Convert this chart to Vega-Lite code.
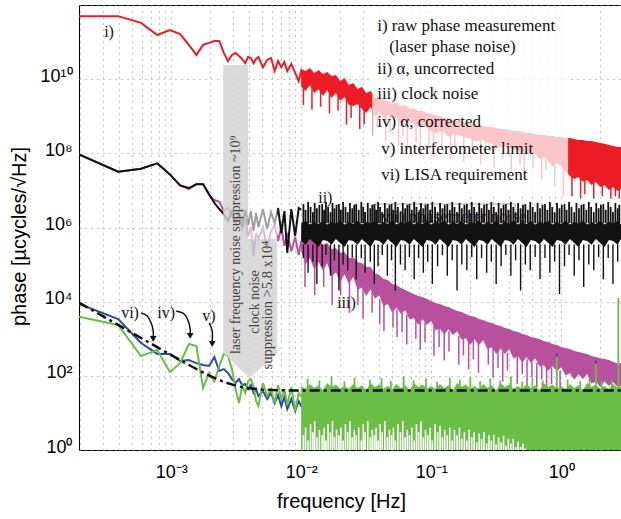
{
"$schema":"https://vega.github.io/schema/vega-lite/v6.json",
"autosize":{"type":"none"},
"padding":{"left":79,"top":5,"right":0,"bottom":70},
"width":542,"height":445,
"background":"white",
"resolve":{"axis":{"y":"independent"}},
"config":{"view":{"stroke":"#000","strokeWidth":1},"axis":{"domain":false,"ticks":false}},
"datasets":{
"main":[
{"f":1.953e-4,"r":5e11,"k":9.4e7,"m":9.4e7,"b":8700,"g":3900},
{"f":3.906e-4,"r":5e11,"k":3.2e7,"m":3.2e7,"b":3400,"g":2350},
{"f":5.859e-4,"r":3.3e11,"k":3.85e7,"m":3.85e7,"b":770,"g":340},
{"f":7.813e-4,"r":1.55e11,"k":5.4e7,"m":5.4e7,"b":390,"g":495},
{"f":9.766e-4,"r":2.1e11,"k":2.7e7,"m":2.7e7,"b":390,"g":127},
{"f":1.172e-3,"r":1.65e11,"k":1.37e7,"m":1.37e7,"b":250,"g":220},
{"f":1.367e-3,"r":8.4e10,"k":1.16e7,"m":1.09e7,"b":267,"g":720},
{"f":1.563e-3,"r":4.5e10,"k":1.46e7,"m":1.48e7,"b":220,"g":635},
{"f":1.758e-3,"r":8.4e10,"k":1.46e7,"m":1.48e7,"b":195,"g":47},
{"f":1.953e-3,"r":9.5e10,"k":8e6,"m":7.5e6,"b":184,"g":119},
{"f":2.148e-3,"r":1.07e11,"k":4.6e6,"m":5.5e6,"b":320,"g":72},
{"f":2.344e-3,"r":1.07e11,"k":3.15e6,"m":4.9e6,"b":135,"g":184},
{"f":2.539e-3,"r":5.1e10,"k":2.3e6,"m":2.78e6,"b":152,"g":390},
{"f":2.734e-3,"r":3.1e10,"k":1.5e6,"m":3.35e6,"b":119,"g":340},
{"f":2.93e-3,"r":4.5e10,"k":2.78e6,"m":2.04e6,"b":82,"g":152},
{"f":3.125e-3,"r":5.1e10,"k":1.32e6,"m":1.32e6,"b":64,"g":44},
{"f":3.32e-3,"r":4.2e10,"k":2.46e6,"m":2.3e6,"b":82,"g":18.5},
{"f":3.516e-3,"r":3.5e10,"k":1.03e6,"m":9.1e5,"b":56,"g":53},
{"f":3.711e-3,"r":2.7e10,"k":2.96e6,"m":1.7e6,"b":60,"g":34.5},
{"f":3.906e-3,"r":3.95e10,"k":1.17e6,"m":5.9e5,"b":44,"g":72},
{"f":4.102e-3,"r":3.7e10,"k":2.78e6,"m":1.03e6,"b":56,"g":82},
{"f":4.297e-3,"r":2.7e10,"k":8.1e5,"m":1.7e5,"b":34.5,"g":53},
{"f":4.492e-3,"r":3.5e10,"k":2.46e6,"m":7.1e5,"b":44,"g":20.9},
{"f":4.688e-3,"r":3.95e10,"k":1.03e6,"m":4.9e5,"b":28.5,"g":15.3},
{"f":5.078e-3,"r":2.1e10,"k":3.15e6,"m":1.03e6,"b":39,"g":64},
{"f":5.469e-3,"r":3.3e10,"k":9.1e5,"m":2.6e5,"b":23.7,"g":28.5},
{"f":5.859e-3,"r":3.7e10,"k":2.6e6,"m":8.1e5,"b":34.5,"g":44},
{"f":6.25e-3,"r":1.66e10,"k":1.32e6,"m":1.17e6,"b":18.5,"g":18.5},
{"f":6.641e-3,"r":3.1e10,"k":3.35e6,"m":4.3e5,"b":30,"g":56},
{"f":7.031e-3,"r":2.1e10,"k":7.1e5,"m":1.03e6,"b":15.3,"g":23.7},
{"f":7.422e-3,"r":2.9e10,"k":2.78e6,"m":3.2e5,"b":27,"g":44},
{"f":7.813e-3,"r":1.66e10,"k":2.05e5,"m":7.1e5,"b":12.7,"g":16.3},
{"f":8.398e-3,"r":2.57e10,"k":3.15e6,"m":2.3e5,"b":23.7,"g":50},
{"f":8.984e-3,"r":1.47e10,"k":5.9e5,"m":5.55e5,"b":11.3,"g":11.3},
{"f":9.57e-3,"r":8.9e9,"k":3.35e6,"m":1.8e5,"b":20.9,"g":34.5},
{"f":0.01,"r":1.66e10,"rh":1.88e10,"rl":6.2e9,"k":3e6,"kh":1.3e6,"kl":4.3e5,"m":4.3e5,"mh":8.1e5,"ml":2.3e5,"b":15.3,"g":28,"gh":53,"gl":0.69},
{"f":0.0108,"r":6.6e9,"rh":1.66e10,"rl":4.8e9,"kh":1.5e6,"kl":3.4e5,"mh":5.55e5,"ml":1.0e5,"gh":44,"gl":0.69},
{"f":0.01166,"r":1.47e10,"rh":2e10,"rl":7e9,"kh":1.2e6,"kl":4.9e5,"mh":6.7e5,"ml":1.5e5,"gh":60,"gl":0.69},
{"f":0.01259,"rh":1.47e10,"rl":4.25e9,"kh":1.4e6,"kl":3.8e5,"mh":4.3e5,"ml":7.2e4,"gh":47,"gl":0.69},
{"f":0.01359,"rh":1.77e10,"rl":5.45e9,"kh":1.25e6,"kl":3.0e5,"mh":4.9e5,"ml":1.2e5,"gh":56,"gl":0.69},
{"f":0.01468,"rh":1.38e10,"rl":3.5e9,"kh":1.5e6,"kl":4.6e5,"mh":3.4e5,"ml":6.8e4,"b":11.3,"gh":41,"gl":0.69},
{"f":0.01585,"rh":1.56e10,"rl":5.1e9,"kh":1.2e6,"kl":4.3e5,"mh":3.8e5,"ml":1.1e5,"gh":64,"gl":0.69},
{"f":0.01711,"rh":1.22e10,"rl":3.1e9,"kh":1.4e6,"kl":3.4e5,"mh":2.6e5,"ml":4.7e4,"gh":50,"gl":0.69},
{"f":0.01848,"rh":1.3e10,"rl":4.25e9,"kh":1.3e6,"kl":4.9e5,"mh":2.8e5,"ml":6.2e4,"gh":58,"gl":0.69},
{"f":0.01995,"rh":8.9e9,"rl":2.6e9,"kh":1.5e6,"kl":3.8e5,"mh":2.05e5,"ml":3.4e4,"gh":45,"gl":0.69},
{"f":0.02154,"rh":1.08e10,"rl":3.3e9,"kh":1.2e6,"kl":3.0e5,"mh":2.2e5,"ml":5.5e4,"b":20.9,"gh":53,"gl":0.69},
{"f":0.02326,"rh":7e9,"rl":2e9,"kh":1.4e6,"kl":4.6e5,"mh":1.5e5,"ml":3.0e4,"gh":44,"gl":0.69},
{"f":0.02512,"rh":7.9e9,"rl":1.9e9,"kh":1.25e6,"kl":4.3e5,"mh":1.6e5,"ml":4.6e4,"gh":60,"gl":0.69},
{"f":0.02712,"rh":5.45e9,"rl":2.15e9,"kh":1.5e6,"kl":3.4e5,"mh":1.17e5,"ml":2.1e4,"gh":47,"gl":0.69},
{"f":0.02929,"rh":6.2e9,"rl":1.57e9,"kh":1.2e6,"kl":4.9e5,"mh":1.1e5,"ml":2.4e4,"gh":56,"gl":0.69},
{"f":0.03162,"rh":4.25e9,"rl":1.23e9,"kh":1.4e6,"kl":3.8e5,"mh":8.6e4,"ml":1.4e4,"gh":41,"gl":0.69},
{"f":0.03415,"rh":4.8e9,"rl":1.78e9,"kh":1.3e6,"kl":3.0e5,"mh":8.6e4,"ml":2.15e4,"gh":64,"gl":0.69},
{"f":0.03687,"rh":3.3e9,"rl":1.02e9,"kh":1.5e6,"kl":4.6e5,"mh":5.9e4,"ml":1.2e4,"gh":50,"gl":0.69},
{"f":0.03981,"rh":3.1e9,"rl":1.3e9,"kh":1.2e6,"kl":4.3e5,"mh":5.25e4,"ml":1.5e4,"gh":58,"gl":0.69},
{"f":0.04299,"rh":2.75e9,"rl":8.5e8,"kh":1.4e6,"kl":3.4e5,"mh":4.1e4,"ml":7.5e3,"gh":45,"gl":0.69},
{"f":0.04642,"rh":2.6e9,"rl":1.08e9,"kh":1.25e6,"kl":4.9e5,"mh":3.85e4,"ml":8.6e3,"b":15.3,"gh":53,"gl":0.69},
{"f":0.05012,"rh":2.15e9,"rl":9.6e8,"kh":1.5e6,"kl":3.8e5,"mh":3e4,"ml":5e3,"gh":44,"gl":0.69},
{"f":0.05412,"rh":2.28e9,"rl":9e8,"kh":1.2e6,"kl":3.0e5,"mh":2.8e4,"ml":7e3,"gh":60,"gl":0.69},
{"f":0.05843,"rh":1.9e9,"rl":6.6e8,"kh":1.4e6,"kl":4.6e5,"mh":2.35e4,"ml":4.7e3,"gh":47,"gl":0.69},
{"f":0.0631,"rh":2e9,"rl":7.5e8,"kh":1.3e6,"kl":4.3e5,"mh":2.07e4,"ml":5.9e3,"gh":56,"gl":0.69},
{"f":0.06813,"rh":1.57e9,"rl":7e8,"kh":1.5e6,"kl":3.4e5,"mh":1.83e4,"ml":3.3e3,"gh":41,"gl":0.69},
{"f":0.07356,"rh":1.67e9,"rl":6.2e8,"kh":1.2e6,"kl":4.9e5,"mh":1.6e4,"ml":3.6e3,"gh":64,"gl":0.69},
{"f":0.07943,"rh":1.39e9,"rl":5.15e8,"kh":1.4e6,"kl":3.8e5,"mh":1.42e4,"ml":2.4e3,"gh":50,"gl":0.69},
{"f":0.08577,"rh":1.39e9,"rl":5.8e8,"kh":1.25e6,"kl":3.0e5,"mh":1.34e4,"ml":3.35e3,"gh":58,"gl":0.69},
{"f":0.09261,"rh":1.23e9,"rl":4.85e8,"kh":1.5e6,"kl":4.6e5,"mh":1.18e4,"ml":2.4e3,"gh":45,"gl":0.69},
{"f":0.1,"rh":1.15e9,"rl":4e8,"kh":1.2e6,"kl":4.3e5,"mh":1.04e4,"ml":3e3,"b":20.9,"gh":53,"gl":0.69},
{"f":0.108,"rh":1.08e9,"rl":3.3e8,"kh":1.4e6,"kl":3.4e5,"mh":9.2e3,"ml":1.7e3,"gh":44,"gl":0.69},
{"f":0.1166,"rh":1.02e9,"rl":4e8,"kh":1.3e6,"kl":4.9e5,"mh":8.7e3,"ml":1.9e3,"gh":60,"gl":0.69},
{"f":0.1259,"rh":9e8,"rl":3.8e8,"kh":1.5e6,"kl":3.8e5,"mh":7.7e3,"ml":1.3e3,"gh":47,"gl":0.69},
{"f":0.1359,"rh":9e8,"rl":2.77e8,"kh":1.2e6,"kl":3.0e5,"mh":7.2e3,"ml":1.8e3,"gh":56,"gl":0.69},
{"f":0.1468,"rh":8e8,"rl":3.3e8,"kh":1.4e6,"kl":4.6e5,"mh":6.35e3,"ml":1.27e3,"gh":41,"gl":0.69},
{"f":0.1585,"rh":7.5e8,"rl":3.15e8,"kh":1.25e6,"kl":4.3e5,"mh":5.6e3,"ml":1.6e3,"gh":64,"gl":0.69},
{"f":0.1711,"rh":7.5e8,"rl":2.95e8,"kh":1.5e6,"kl":3.4e5,"mh":5.3e3,"ml":960,"gh":50,"gl":0.69},
{"f":0.1848,"rh":6.6e8,"rl":2.6e8,"kh":1.2e6,"kl":4.9e5,"mh":4.65e3,"ml":1.03e3,"gh":58,"gl":0.69},
{"f":0.1995,"rh":6.6e8,"rl":2.6e8,"kh":1.4e6,"kl":3.8e5,"mh":4.1e3,"ml":680,"gh":45,"gl":0.69},
{"f":0.2154,"rh":6.2e8,"rl":2.16e8,"kh":1.3e6,"kl":3.0e5,"mh":3.9e3,"ml":975,"b":15.3,"gh":53,"gl":0.69},
{"f":0.2326,"rh":5.8e8,"rl":2.16e8,"kh":1.5e6,"kl":4.6e5,"mh":3.4e3,"ml":680,"gh":44,"gl":0.69},
{"f":0.2512,"rh":5.5e8,"rl":2.3e8,"kh":1.2e6,"kl":4.3e5,"mh":3.2e3,"ml":910,"gh":60,"gl":0.69},
{"f":0.2712,"rh":5.15e8,"rl":1.9e8,"kh":1.4e6,"kl":3.4e5,"mh":2.85e3,"ml":520,"gh":47,"gl":0.69},
{"f":0.2929,"rh":5.15e8,"rl":1.8e8,"kh":1.25e6,"kl":4.9e5,"mh":2.67e3,"ml":590,"gh":56,"gl":0.69},
{"f":0.3162,"rh":4.85e8,"rl":1.4e8,"kh":1.5e6,"kl":3.8e5,"mh":2.35e3,"ml":390,"gh":41,"gl":0.69},
{"f":0.3415,"rh":4.5e8,"rl":1.49e8,"kh":1.2e6,"kl":3.0e5,"mh":2.2e3,"ml":550,"gh":64,"gl":0.69},
{"f":0.3687,"rh":4.5e8,"rl":1.58e8,"kh":1.4e6,"kl":4.6e5,"mh":1.95e3,"ml":390,"gh":50,"gl":0.69},
{"f":0.3981,"rh":4.3e8,"rl":1.4e8,"kh":1.3e6,"kl":4.3e5,"mh":1.84e3,"ml":525,"gh":58,"gl":0.69},
{"f":0.4299,"rh":4e8,"rl":1.31e8,"kh":1.5e6,"kl":3.4e5,"mh":1.62e3,"ml":295,"gh":45,"gl":0.69},
{"f":0.4642,"rh":4e8,"rl":1.16e8,"kh":1.2e6,"kl":4.9e5,"mh":1.52e3,"ml":340,"b":20.9,"gh":53,"gl":0.69},
{"f":0.5012,"rh":3.8e8,"rl":1.09e8,"kh":1.4e6,"kl":3.8e5,"mh":1.35e3,"ml":225,"gh":44,"gl":0.69},
{"f":0.5412,"rh":3.55e8,"rl":1.02e8,"kh":1.25e6,"kl":3.0e5,"mh":1.27e3,"ml":318,"gh":60,"gl":0.69},
{"f":0.5843,"rh":3.55e8,"rl":9.6e7,"kh":1.5e6,"kl":4.6e5,"mh":1.12e3,"ml":224,"gh":47,"gl":0.69},
{"f":0.631,"rh":3.3e8,"rl":9.6e7,"kh":1.2e6,"kl":4.3e5,"mh":1.05e3,"ml":300,"gh":56,"gl":0.69},
{"f":0.6813,"rh":3.15e8,"rl":7e7,"kh":1.4e6,"kl":3.4e5,"mh":980,"ml":178,"gh":41,"gl":0.69},
{"f":0.7356,"rh":3.15e8,"rl":8e7,"kh":1.3e6,"kl":4.9e5,"mh":870,"ml":193,"gh":64,"gl":0.69},
{"f":0.7943,"rh":2.95e8,"rl":6.2e7,"kh":1.5e6,"kl":3.8e5,"mh":820,"ml":137,"gh":50,"gl":0.69},
{"f":0.8577,"rh":2.95e8,"rl":4.5e7,"kh":1.2e6,"kl":3.0e5,"mh":720,"ml":180,"gh":58,"gl":0.69},
{"f":0.9261,"rh":2.77e8,"rl":5.5e7,"kh":1.4e6,"kl":4.6e5,"mh":680,"ml":136,"gh":45,"gl":0.69},
{"f":1,"rh":2.77e8,"rl":4.5e7,"kh":1.25e6,"kl":4.3e5,"mh":600,"ml":171,"gh":53,"gl":0.69},
{"f":1.08,"rh":2.6e8,"rl":3.3e7,"kh":1.5e6,"kl":3.4e5,"mh":560,"ml":102,"gh":44,"gl":0.69},
{"f":1.166,"rh":2.6e8,"rl":2.45e7,"kh":1.2e6,"kl":4.9e5,"mh":530,"ml":118,"gh":60,"gl":0.69},
{"f":1.259,"rh":2.45e8,"rl":2.03e7,"kh":1.4e6,"kl":3.8e5,"mh":465,"ml":78,"gh":47,"gl":0.69},
{"f":1.359,"rh":2.3e8,"rl":2.3e7,"kh":1.3e6,"kl":3.0e5,"mh":440,"ml":110,"gh":56,"gl":0.69},
{"f":1.468,"rh":2.3e8,"rl":1.7e7,"kh":1.5e6,"kl":4.6e5,"mh":410,"ml":82,"gh":41,"gl":0.69},
{"f":1.585,"rh":2.16e8,"rl":1.9e7,"kh":1.2e6,"kl":4.3e5,"mh":390,"ml":111,"gh":64,"gl":0.69},
{"f":1.711,"rh":2.16e8,"rl":1.4e7,"kh":1.4e6,"kl":3.4e5,"mh":340,"ml":62,"gh":50,"gl":0.69},
{"f":1.848,"rh":2.03e8,"rl":1.69e7,"kh":1.25e6,"kl":4.9e5,"mh":320,"ml":71,"gh":58,"gl":0.69},
{"f":1.995,"rh":1.9e8,"rl":1.24e7,"kh":1.5e6,"kl":3.8e5,"mh":300,"ml":50,"gh":45,"gl":0.69},
{"f":2.154,"rh":1.8e8,"rl":1.4e7,"kh":1.2e6,"kl":3.0e5,"mh":285,"ml":71,"gh":53,"gl":0.69},
{"f":2.326,"rh":1.69e8,"rl":1.02e7,"kh":1.4e6,"kl":4.6e5,"mh":267,"ml":53,"gh":44,"gl":0.69},
{"f":2.512,"rh":1.58e8,"rl":1.24e7,"kh":1.3e6,"kl":4.3e5,"mh":235,"ml":67,"gh":60,"gl":0.69},
{"f":2.712,"rh":1.49e8,"rl":9.6e6,"kh":1.5e6,"kl":3.4e5,"mh":220,"ml":50,"gh":47,"gl":0.69},
{"f":2.884,"rh":1.49e8,"rl":1.09e7,"kh":1.2e6,"kl":4.9e5,"mh":220,"ml":55,"b":20.9,"gh":53,"gl":0.69}
],
"spk":[
{"c":"r","f":0.0104,"v":6e9,"v2":2e9},{"c":"r","f":0.0121,"v":6e9,"v2":1.5e9},{"c":"r","f":0.0141,"v":5e9,"v2":1.8e9},{"c":"r","f":0.0165,"v":5e9,"v2":1.2e9},{"c":"r","f":0.0192,"v":4e9,"v2":1.4e9},{"c":"r","f":0.0223,"v":3e9,"v2":6e8},{"c":"r","f":0.0242,"v":2.5e9,"v2":9e8},{"c":"r","f":0.0282,"v":2.2e9,"v2":4.5e8},{"c":"r","f":0.0305,"v":1.8e9,"v2":6e8},{"c":"r","f":0.0355,"v":1.6e9,"v2":3e8},{"c":"r","f":0.0385,"v":1.4e9,"v2":5e8},{"c":"r","f":0.0447,"v":1.2e9,"v2":2.2e8},{"c":"r","f":0.0482,"v":1.1e9,"v2":3.5e8},{"c":"r","f":0.0562,"v":1e9,"v2":1.6e8},{"c":"r","f":0.0608,"v":9e8,"v2":3e8},{"c":"r","f":0.0656,"v":8e8,"v2":1.2e8},{"c":"r","f":0.0765,"v":7e8,"v2":2e8},{"c":"r","f":0.0826,"v":6.5e8,"v2":9e7},{"c":"r","f":0.0962,"v":5.5e8,"v2":1.5e8},{"c":"r","f":0.104,"v":5e8,"v2":8e7},{"c":"r","f":0.121,"v":4.5e8,"v2":1.3e8},{"c":"r","f":0.141,"v":4e8,"v2":7e7},{"c":"r","f":0.152,"v":4e8,"v2":1.4e8},{"c":"r","f":0.178,"v":3.5e8,"v2":6e7},{"c":"r","f":0.207,"v":3e8,"v2":1e8},{"c":"r","f":0.241,"v":2.7e8,"v2":5e7},{"c":"r","f":0.261,"v":2.6e8,"v2":9e7},{"c":"r","f":0.304,"v":2.2e8,"v2":4e7},{"c":"r","f":0.355,"v":2e8,"v2":7e7},{"c":"r","f":0.413,"v":1.8e8,"v2":3e7},{"c":"r","f":0.482,"v":1.5e8,"v2":5e7},{"c":"r","f":0.52,"v":1.4e8,"v2":2.5e7},{"c":"r","f":0.607,"v":1.2e8,"v2":4e7},{"c":"r","f":0.708,"v":1.1e8,"v2":2e7},{"c":"r","f":0.765,"v":1e8,"v2":3.5e7},{"c":"r","f":0.89,"v":8e7,"v2":1.3e7},{"c":"r","f":1.04,"v":6e7,"v2":7e6},{"c":"r","f":1.21,"v":4e7,"v2":7e6},{"c":"r","f":1.41,"v":3e7,"v2":6e6},{"c":"r","f":1.52,"v":2.8e7,"v2":8e6},{"c":"r","f":1.78,"v":2.2e7,"v2":6e6},{"c":"r","f":2.07,"v":2e7,"v2":7e6},{"c":"r","f":2.41,"v":1.6e7,"v2":6e6},{"c":"r","f":2.61,"v":1.5e7,"v2":7e6},{"c":"r","f":2.8,"v":1.4e7,"v2":6e6},
{"c":"m","f":0.0107,"v":1.3e5,"v2":2.5e4},{"c":"m","f":0.0127,"v":1e5,"v2":1.5e4},{"c":"m","f":0.0149,"v":8e4,"v2":2.5e4},{"c":"m","f":0.0173,"v":5.9e4,"v2":8e3},{"c":"m","f":0.0201,"v":4.7e4,"v2":1.5e4},{"c":"m","f":0.0235,"v":3.3e4,"v2":5e3},{"c":"m","f":0.0273,"v":2.6e4,"v2":8e3},{"c":"m","f":0.0299,"v":2.3e4,"v2":3.5e3},{"c":"m","f":0.0351,"v":1.8e4,"v2":5e3},{"c":"m","f":0.0402,"v":1.15e4,"v2":2.5e3},{"c":"m","f":0.0433,"v":9e3,"v2":1.6e3},{"c":"m","f":0.0508,"v":6.7e3,"v2":2e3},{"c":"m","f":0.0546,"v":6.2e3,"v2":1.1e3},{"c":"m","f":0.0597,"v":5.1e3,"v2":1.5e3},{"c":"m","f":0.0649,"v":4.4e3,"v2":700},{"c":"m","f":0.0762,"v":3.3e3,"v2":1e3},{"c":"m","f":0.0824,"v":3.1e3,"v2":500},{"c":"m","f":0.0896,"v":2.8e3,"v2":800},{"c":"m","f":0.105,"v":2.2e3,"v2":350},{"c":"m","f":0.115,"v":2e3,"v2":600},{"c":"m","f":0.126,"v":1.7e3,"v2":260},{"c":"m","f":0.137,"v":1.6e3,"v2":450},{"c":"m","f":0.163,"v":1.2e3,"v2":200},{"c":"m","f":0.177,"v":1.1e3,"v2":350},{"c":"m","f":0.194,"v":960,"v2":150},{"c":"m","f":0.211,"v":880,"v2":280},{"c":"m","f":0.231,"v":770,"v2":120},{"c":"m","f":0.275,"v":620,"v2":200},{"c":"m","f":0.299,"v":580,"v2":90},{"c":"m","f":0.326,"v":510,"v2":160},{"c":"m","f":0.355,"v":450,"v2":70},{"c":"m","f":0.386,"v":420,"v2":140},{"c":"m","f":0.459,"v":340,"v2":60},{"c":"m","f":0.502,"v":300,"v2":110},{"c":"m","f":0.546,"v":280,"v2":55},{"c":"m","f":0.595,"v":245,"v2":90},{"c":"m","f":0.649,"v":225,"v2":50},{"c":"m","f":0.708,"v":205,"v2":80},{"c":"m","f":0.772,"v":185,"v2":50},{"c":"m","f":0.843,"v":165,"v2":60},{"c":"m","f":0.98,"v":140,"v2":50},
{"c":"k","f":0.0104,"v":3.5e5,"v2":1.5e5},{"c":"k","f":0.0113,"v":3.5e5,"v2":6e4},{"c":"k","f":0.0123,"v":3.5e5,"v2":1.2e5},{"c":"k","f":0.0132,"v":3.5e5,"v2":3e4},{"c":"k","f":0.0145,"v":3.5e5,"v2":9e4},{"c":"k","f":0.0155,"v":3.5e5,"v2":1.8e5},{"c":"k","f":0.0168,"v":3.5e5,"v2":5e4},{"c":"k","f":0.018,"v":3.5e5,"v2":1.3e5},{"c":"k","f":0.0195,"v":3.5e5,"v2":2e4},{"c":"k","f":0.021,"v":3.5e5,"v2":1e5},{"c":"k","f":0.0228,"v":3.5e5,"v2":7e4},{"c":"k","f":0.0247,"v":3.5e5,"v2":1.6e5},{"c":"k","f":0.0265,"v":3.5e5,"v2":4e4},{"c":"k","f":0.029,"v":3.5e5,"v2":1.5e5},{"c":"k","f":0.031,"v":3.5e5,"v2":6e4},{"c":"k","f":0.034,"v":3.5e5,"v2":1.2e5},{"c":"k","f":0.0365,"v":3.5e5,"v2":3e4},{"c":"k","f":0.039,"v":3.5e5,"v2":9e4},{"c":"k","f":0.042,"v":3.5e5,"v2":1.8e5},{"c":"k","f":0.046,"v":3.5e5,"v2":5e4},{"c":"k","f":0.0495,"v":3.5e5,"v2":1.3e5},{"c":"k","f":0.053,"v":3.5e5,"v2":2e4},{"c":"k","f":0.058,"v":3.5e5,"v2":1e5},{"c":"k","f":0.063,"v":3.5e5,"v2":7e4},{"c":"k","f":0.068,"v":3.5e5,"v2":1.6e5},{"c":"k","f":0.074,"v":3.5e5,"v2":4e4},{"c":"k","f":0.08,"v":3.5e5,"v2":1.5e5},{"c":"k","f":0.087,"v":3.5e5,"v2":6e4},{"c":"k","f":0.094,"v":3.5e5,"v2":1.2e5},{"c":"k","f":0.102,"v":3.5e5,"v2":3e4},{"c":"k","f":0.112,"v":3.5e5,"v2":9e4},{"c":"k","f":0.122,"v":3.5e5,"v2":1.8e5},{"c":"k","f":0.133,"v":3.5e5,"v2":5e4},{"c":"k","f":0.145,"v":3.5e5,"v2":1.3e5},{"c":"k","f":0.158,"v":3.5e5,"v2":2e4},{"c":"k","f":0.172,"v":3.5e5,"v2":1e5},{"c":"k","f":0.188,"v":3.5e5,"v2":7e4},{"c":"k","f":0.205,"v":3.5e5,"v2":1.6e5},{"c":"k","f":0.224,"v":3.5e5,"v2":4e4},{"c":"k","f":0.244,"v":3.5e5,"v2":1.5e5},{"c":"k","f":0.267,"v":3.5e5,"v2":6e4},{"c":"k","f":0.29,"v":3.5e5,"v2":1.2e5},{"c":"k","f":0.316,"v":3.5e5,"v2":3e4},{"c":"k","f":0.345,"v":3.5e5,"v2":9e4},{"c":"k","f":0.375,"v":3.5e5,"v2":1.8e5},{"c":"k","f":0.41,"v":3.5e5,"v2":5e4},{"c":"k","f":0.446,"v":3.5e5,"v2":1.3e5},{"c":"k","f":0.487,"v":3.5e5,"v2":2e4},{"c":"k","f":0.53,"v":3.5e5,"v2":1e5},{"c":"k","f":0.578,"v":3.5e5,"v2":7e4},{"c":"k","f":0.63,"v":3.5e5,"v2":1.6e5},{"c":"k","f":0.687,"v":3.5e5,"v2":4e4},{"c":"k","f":0.75,"v":3.5e5,"v2":1.5e5},{"c":"k","f":0.818,"v":3.5e5,"v2":6e4},{"c":"k","f":0.89,"v":3.5e5,"v2":1.2e5},{"c":"k","f":0.97,"v":3.5e5,"v2":1.6e4},{"c":"k","f":1.06,"v":3.5e5,"v2":9e4},{"c":"k","f":1.15,"v":3.5e5,"v2":1.8e5},{"c":"k","f":1.26,"v":3.5e5,"v2":5e4},{"c":"k","f":1.37,"v":3.5e5,"v2":1.3e5},{"c":"k","f":1.49,"v":3.5e5,"v2":2.5e4},{"c":"k","f":1.63,"v":3.5e5,"v2":1e5},{"c":"k","f":1.78,"v":3.5e5,"v2":7e4},{"c":"k","f":1.94,"v":3.5e5,"v2":1.6e5},{"c":"k","f":2.11,"v":3.5e5,"v2":4e4},{"c":"k","f":2.3,"v":3.5e5,"v2":1.5e5},{"c":"k","f":2.5,"v":3.5e5,"v2":3e4},{"c":"k","f":2.72,"v":3.5e5,"v2":1.2e5},
{"c":"kt","f":0.0104,"v":1.3e6,"v2":4.3e6},{"c":"kt","f":0.0108,"v":1.3e6,"v2":3e6},{"c":"kt","f":0.0113,"v":1.3e6,"v2":4.9e6},{"c":"kt","f":0.0118,"v":1.3e6,"v2":3.6e6},{"c":"kt","f":0.0123,"v":1.3e6,"v2":2.6e6},{"c":"kt","f":0.0127,"v":1.3e6,"v2":4.6e6},{"c":"kt","f":0.0132,"v":1.3e6,"v2":3.3e6},{"c":"kt","f":0.0138,"v":1.3e6,"v2":4.1e6},{"c":"kt","f":0.0145,"v":1.3e6,"v2":4.3e6},{"c":"kt","f":0.015,"v":1.3e6,"v2":3e6},{"c":"kt","f":0.0155,"v":1.3e6,"v2":4.9e6},{"c":"kt","f":0.0161,"v":1.3e6,"v2":3.6e6},{"c":"kt","f":0.0168,"v":1.3e6,"v2":2.6e6},{"c":"kt","f":0.0174,"v":1.3e6,"v2":4.6e6},{"c":"kt","f":0.018,"v":1.3e6,"v2":3.3e6},{"c":"kt","f":0.0187,"v":1.3e6,"v2":4.1e6},{"c":"kt","f":0.0195,"v":1.3e6,"v2":4.3e6},{"c":"kt","f":0.0202,"v":1.3e6,"v2":3e6},{"c":"kt","f":0.021,"v":1.3e6,"v2":4.9e6},{"c":"kt","f":0.0219,"v":1.3e6,"v2":3.6e6},{"c":"kt","f":0.0228,"v":1.3e6,"v2":2.6e6},{"c":"kt","f":0.0237,"v":1.3e6,"v2":4.6e6},{"c":"kt","f":0.0247,"v":1.3e6,"v2":3.3e6},{"c":"kt","f":0.0256,"v":1.3e6,"v2":4.1e6},{"c":"kt","f":0.0265,"v":1.3e6,"v2":4.3e6},{"c":"kt","f":0.0277,"v":1.3e6,"v2":3e6},{"c":"kt","f":0.029,"v":1.3e6,"v2":4.9e6},{"c":"kt","f":0.03,"v":1.3e6,"v2":3.6e6},{"c":"kt","f":0.031,"v":1.3e6,"v2":2.6e6},{"c":"kt","f":0.0325,"v":1.3e6,"v2":4.6e6},{"c":"kt","f":0.034,"v":1.3e6,"v2":3.3e6},{"c":"kt","f":0.0352,"v":1.3e6,"v2":4.1e6},{"c":"kt","f":0.0365,"v":1.3e6,"v2":4.3e6},{"c":"kt","f":0.0377,"v":1.3e6,"v2":3e6},{"c":"kt","f":0.039,"v":1.3e6,"v2":4.9e6},{"c":"kt","f":0.0405,"v":1.3e6,"v2":3.6e6},{"c":"kt","f":0.042,"v":1.3e6,"v2":2.6e6},{"c":"kt","f":0.044,"v":1.3e6,"v2":4.6e6},{"c":"kt","f":0.046,"v":1.3e6,"v2":3.3e6},{"c":"kt","f":0.0477,"v":1.3e6,"v2":4.1e6},{"c":"kt","f":0.0495,"v":1.3e6,"v2":4.3e6},{"c":"kt","f":0.0512,"v":1.3e6,"v2":3e6},{"c":"kt","f":0.053,"v":1.3e6,"v2":4.9e6},{"c":"kt","f":0.0554,"v":1.3e6,"v2":3.6e6},{"c":"kt","f":0.058,"v":1.3e6,"v2":2.6e6},{"c":"kt","f":0.0604,"v":1.3e6,"v2":4.6e6},{"c":"kt","f":0.063,"v":1.3e6,"v2":3.3e6},{"c":"kt","f":0.0655,"v":1.3e6,"v2":4.1e6},{"c":"kt","f":0.068,"v":1.3e6,"v2":4.3e6},{"c":"kt","f":0.0709,"v":1.3e6,"v2":3e6},{"c":"kt","f":0.074,"v":1.3e6,"v2":4.9e6},{"c":"kt","f":0.077,"v":1.3e6,"v2":3.6e6},{"c":"kt","f":0.08,"v":1.3e6,"v2":2.6e6},{"c":"kt","f":0.0834,"v":1.3e6,"v2":4.6e6},{"c":"kt","f":0.087,"v":1.3e6,"v2":3.3e6},{"c":"kt","f":0.0904,"v":1.3e6,"v2":4.1e6},{"c":"kt","f":0.094,"v":1.3e6,"v2":4.3e6},{"c":"kt","f":0.098,"v":1.3e6,"v2":3e6},{"c":"kt","f":0.102,"v":1.3e6,"v2":4.9e6},{"c":"kt","f":0.107,"v":1.3e6,"v2":3.6e6},{"c":"kt","f":0.112,"v":1.3e6,"v2":2.6e6},{"c":"kt","f":0.117,"v":1.3e6,"v2":4.6e6},{"c":"kt","f":0.122,"v":1.3e6,"v2":3.3e6},{"c":"kt","f":0.127,"v":1.3e6,"v2":4.1e6},{"c":"kt","f":0.133,"v":1.3e6,"v2":4.3e6},{"c":"kt","f":0.139,"v":1.3e6,"v2":3e6},{"c":"kt","f":0.145,"v":1.3e6,"v2":4.9e6},{"c":"kt","f":0.151,"v":1.3e6,"v2":3.6e6},{"c":"kt","f":0.158,"v":1.3e6,"v2":2.6e6},{"c":"kt","f":0.165,"v":1.3e6,"v2":4.6e6},{"c":"kt","f":0.172,"v":1.3e6,"v2":3.3e6},{"c":"kt","f":0.18,"v":1.3e6,"v2":4.1e6},{"c":"kt","f":0.188,"v":1.3e6,"v2":4.3e6},{"c":"kt","f":0.196,"v":1.3e6,"v2":3e6},{"c":"kt","f":0.205,"v":1.3e6,"v2":4.9e6},{"c":"kt","f":0.214,"v":1.3e6,"v2":3.6e6},{"c":"kt","f":0.224,"v":1.3e6,"v2":2.6e6},{"c":"kt","f":0.234,"v":1.3e6,"v2":4.6e6},{"c":"kt","f":0.244,"v":1.3e6,"v2":3.3e6},{"c":"kt","f":0.255,"v":1.3e6,"v2":4.1e6},{"c":"kt","f":0.267,"v":1.3e6,"v2":4.3e6},{"c":"kt","f":0.278,"v":1.3e6,"v2":3e6},{"c":"kt","f":0.29,"v":1.3e6,"v2":4.9e6},{"c":"kt","f":0.303,"v":1.3e6,"v2":3.6e6},{"c":"kt","f":0.316,"v":1.3e6,"v2":2.6e6},{"c":"kt","f":0.33,"v":1.3e6,"v2":4.6e6},{"c":"kt","f":0.345,"v":1.3e6,"v2":3.3e6},{"c":"kt","f":0.36,"v":1.3e6,"v2":4.1e6},{"c":"kt","f":0.375,"v":1.3e6,"v2":4.3e6},{"c":"kt","f":0.392,"v":1.3e6,"v2":3e6},{"c":"kt","f":0.41,"v":1.3e6,"v2":4.9e6},{"c":"kt","f":0.428,"v":1.3e6,"v2":3.6e6},{"c":"kt","f":0.446,"v":1.3e6,"v2":2.6e6},{"c":"kt","f":0.466,"v":1.3e6,"v2":4.6e6},{"c":"kt","f":0.487,"v":1.3e6,"v2":3.3e6},{"c":"kt","f":0.508,"v":1.3e6,"v2":4.1e6},{"c":"kt","f":0.53,"v":1.3e6,"v2":4.3e6},{"c":"kt","f":0.554,"v":1.3e6,"v2":3e6},{"c":"kt","f":0.578,"v":1.3e6,"v2":4.9e6},{"c":"kt","f":0.603,"v":1.3e6,"v2":3.6e6},{"c":"kt","f":0.63,"v":1.3e6,"v2":2.6e6},{"c":"kt","f":0.658,"v":1.3e6,"v2":4.6e6},{"c":"kt","f":0.687,"v":1.3e6,"v2":3.3e6},{"c":"kt","f":0.718,"v":1.3e6,"v2":4.1e6},{"c":"kt","f":0.75,"v":1.3e6,"v2":4.3e6},{"c":"kt","f":0.783,"v":1.3e6,"v2":3e6},{"c":"kt","f":0.818,"v":1.3e6,"v2":4.9e6},{"c":"kt","f":0.853,"v":1.3e6,"v2":3.6e6},{"c":"kt","f":0.89,"v":1.3e6,"v2":2.6e6},{"c":"kt","f":0.929,"v":1.3e6,"v2":4.6e6},{"c":"kt","f":0.97,"v":1.3e6,"v2":3.3e6},{"c":"kt","f":1.01,"v":1.3e6,"v2":4.1e6},{"c":"kt","f":1.06,"v":1.3e6,"v2":4.3e6},{"c":"kt","f":1.1,"v":1.3e6,"v2":3e6},{"c":"kt","f":1.15,"v":1.3e6,"v2":4.9e6},{"c":"kt","f":1.2,"v":1.3e6,"v2":3.6e6},{"c":"kt","f":1.26,"v":1.3e6,"v2":2.6e6},{"c":"kt","f":1.31,"v":1.3e6,"v2":4.6e6},{"c":"kt","f":1.37,"v":1.3e6,"v2":3.3e6},{"c":"kt","f":1.43,"v":1.3e6,"v2":4.1e6},{"c":"kt","f":1.49,"v":1.3e6,"v2":4.3e6},{"c":"kt","f":1.56,"v":1.3e6,"v2":3e6},{"c":"kt","f":1.63,"v":1.3e6,"v2":4.9e6},{"c":"kt","f":1.7,"v":1.3e6,"v2":3.6e6},{"c":"kt","f":1.78,"v":1.3e6,"v2":2.6e6},{"c":"kt","f":1.86,"v":1.3e6,"v2":4.6e6},{"c":"kt","f":1.94,"v":1.3e6,"v2":3.3e6},{"c":"kt","f":2.02,"v":1.3e6,"v2":4.1e6},{"c":"kt","f":2.11,"v":1.3e6,"v2":4.3e6},{"c":"kt","f":2.2,"v":1.3e6,"v2":3e6},{"c":"kt","f":2.3,"v":1.3e6,"v2":4.9e6},{"c":"kt","f":2.4,"v":1.3e6,"v2":3.6e6},{"c":"kt","f":2.5,"v":1.3e6,"v2":2.6e6},{"c":"kt","f":2.61,"v":1.3e6,"v2":4.6e6},{"c":"kt","f":2.72,"v":1.3e6,"v2":3.3e6},{"c":"kt","f":2.8,"v":1.3e6,"v2":4.1e6},
{"c":"g","f":0.0112,"v":45,"v2":85},{"c":"g","f":0.0138,"v":45,"v2":75},{"c":"g","f":0.0171,"v":45,"v2":95},{"c":"g","f":0.0215,"v":45,"v2":70},{"c":"g","f":0.0257,"v":45,"v2":90},{"c":"g","f":0.0338,"v":45,"v2":78},{"c":"g","f":0.0415,"v":45,"v2":88},{"c":"g","f":0.0489,"v":45,"v2":72},{"c":"g","f":0.0615,"v":45,"v2":95},{"c":"g","f":0.0733,"v":45,"v2":75},{"c":"g","f":0.0912,"v":45,"v2":85},{"c":"g","f":0.111,"v":45,"v2":70},{"c":"g","f":0.139,"v":45,"v2":90},{"c":"g","f":0.166,"v":45,"v2":78},{"c":"g","f":0.2,"v":45,"v2":92},{"c":"g","f":0.238,"v":45,"v2":72},{"c":"g","f":0.285,"v":45,"v2":85},{"c":"g","f":0.34,"v":45,"v2":75},{"c":"g","f":0.41,"v":45,"v2":95},{"c":"g","f":0.5,"v":45,"v2":70},{"c":"g","f":0.6,"v":45,"v2":85},{"c":"g","f":0.72,"v":45,"v2":75},{"c":"g","f":0.9261,"v":45,"v2":340},{"c":"g","f":1.12,"v":45,"v2":80},{"c":"g","f":1.4,"v":45,"v2":72},{"c":"g","f":1.65,"v":45,"v2":85},{"c":"g","f":1.848,"v":45,"v2":220},{"c":"g","f":2.05,"v":45,"v2":75},{"c":"g","f":2.45,"v":45,"v2":80},{"c":"g","f":2.752,"v":45,"v2":12600},
{"c":"bt","f":0.9261,"v":330,"v2":400},{"c":"bt","f":1.848,"v":212,"v2":255},
{"c":"w","f":0.0104,"v":0.69,"v2":2.5},{"c":"w","f":0.0108,"v":0.69,"v2":4},{"c":"w","f":0.0113,"v":0.69,"v2":1.8},{"c":"w","f":0.0118,"v":0.69,"v2":5},{"c":"w","f":0.0123,"v":0.69,"v2":3},{"c":"w","f":0.0127,"v":0.69,"v2":6},{"c":"w","f":0.0132,"v":0.69,"v2":2.2},{"c":"w","f":0.0138,"v":0.69,"v2":3.5},{"c":"w","f":0.0145,"v":0.69,"v2":2.5},{"c":"w","f":0.015,"v":0.69,"v2":4},{"c":"w","f":0.0155,"v":0.69,"v2":1.8},{"c":"w","f":0.0161,"v":0.69,"v2":5},{"c":"w","f":0.0168,"v":0.69,"v2":3},{"c":"w","f":0.0174,"v":0.69,"v2":6},{"c":"w","f":0.018,"v":0.69,"v2":2.2},{"c":"w","f":0.0187,"v":0.69,"v2":3.5},{"c":"w","f":0.0195,"v":0.69,"v2":2.5},{"c":"w","f":0.0202,"v":0.69,"v2":4},{"c":"w","f":0.021,"v":0.69,"v2":1.8},{"c":"w","f":0.0219,"v":0.69,"v2":5},{"c":"w","f":0.0228,"v":0.69,"v2":3},{"c":"w","f":0.0237,"v":0.69,"v2":6},{"c":"w","f":0.0247,"v":0.69,"v2":2.2},{"c":"w","f":0.0256,"v":0.69,"v2":3.5},{"c":"w","f":0.0265,"v":0.69,"v2":2.5},{"c":"w","f":0.0277,"v":0.69,"v2":4},{"c":"w","f":0.029,"v":0.69,"v2":1.8},{"c":"w","f":0.03,"v":0.69,"v2":5},{"c":"w","f":0.031,"v":0.69,"v2":3},{"c":"w","f":0.0325,"v":0.69,"v2":6},{"c":"w","f":0.034,"v":0.69,"v2":2.2},{"c":"w","f":0.0352,"v":0.69,"v2":3.5},{"c":"w","f":0.0365,"v":0.69,"v2":2.5},{"c":"w","f":0.0377,"v":0.69,"v2":4},{"c":"w","f":0.039,"v":0.69,"v2":1.8},{"c":"w","f":0.0405,"v":0.69,"v2":5},{"c":"w","f":0.042,"v":0.69,"v2":3},{"c":"w","f":0.044,"v":0.69,"v2":6},{"c":"w","f":0.046,"v":0.69,"v2":2.2},{"c":"w","f":0.0477,"v":0.69,"v2":3.5},{"c":"w","f":0.0495,"v":0.69,"v2":2.5},{"c":"w","f":0.0512,"v":0.69,"v2":4},{"c":"w","f":0.053,"v":0.69,"v2":1.8},{"c":"w","f":0.0554,"v":0.69,"v2":5},{"c":"w","f":0.058,"v":0.69,"v2":3},{"c":"w","f":0.0604,"v":0.69,"v2":6},{"c":"w","f":0.063,"v":0.69,"v2":2.2},{"c":"w","f":0.0655,"v":0.69,"v2":3.5},{"c":"w","f":0.068,"v":0.69,"v2":2.5},{"c":"w","f":0.0709,"v":0.69,"v2":4},{"c":"w","f":0.074,"v":0.69,"v2":1.8},{"c":"w","f":0.077,"v":0.69,"v2":5},{"c":"w","f":0.08,"v":0.69,"v2":3},{"c":"w","f":0.0834,"v":0.69,"v2":6},{"c":"w","f":0.087,"v":0.69,"v2":2.2},{"c":"w","f":0.0904,"v":0.69,"v2":3.5},{"c":"w","f":0.094,"v":0.69,"v2":2.5},{"c":"w","f":0.098,"v":0.69,"v2":4},{"c":"w","f":0.102,"v":0.69,"v2":1.8},{"c":"w","f":0.107,"v":0.69,"v2":5},{"c":"w","f":0.112,"v":0.69,"v2":3},{"c":"w","f":0.117,"v":0.69,"v2":4.5},{"c":"w","f":0.122,"v":0.69,"v2":2.2},{"c":"w","f":0.127,"v":0.69,"v2":3.5},{"c":"w","f":0.133,"v":0.69,"v2":2.5},{"c":"w","f":0.139,"v":0.69,"v2":4},{"c":"w","f":0.145,"v":0.69,"v2":1.8},{"c":"w","f":0.151,"v":0.69,"v2":3.5},{"c":"w","f":0.158,"v":0.69,"v2":2.5},{"c":"w","f":0.165,"v":0.69,"v2":4},{"c":"w","f":0.172,"v":0.69,"v2":2},{"c":"w","f":0.18,"v":0.69,"v2":3},{"c":"w","f":0.188,"v":0.69,"v2":1.8},{"c":"w","f":0.196,"v":0.69,"v2":3.5},{"c":"w","f":0.205,"v":0.69,"v2":2.2},{"c":"w","f":0.214,"v":0.69,"v2":3},{"c":"w","f":0.224,"v":0.69,"v2":1.6},{"c":"w","f":0.234,"v":0.69,"v2":2.8},{"c":"w","f":0.244,"v":0.69,"v2":2},{"c":"w","f":0.255,"v":0.69,"v2":3},{"c":"w","f":0.267,"v":0.69,"v2":1.5},{"c":"w","f":0.278,"v":0.69,"v2":2.5},{"c":"w","f":0.29,"v":0.69,"v2":1.8},{"c":"w","f":0.303,"v":0.69,"v2":2.6},{"c":"w","f":0.316,"v":0.69,"v2":1.4},{"c":"w","f":0.33,"v":0.69,"v2":2.2},{"c":"w","f":0.345,"v":0.69,"v2":1.6},{"c":"w","f":0.36,"v":0.69,"v2":2.4},{"c":"w","f":0.375,"v":0.69,"v2":1.3},{"c":"w","f":0.392,"v":0.69,"v2":2},{"c":"w","f":0.41,"v":0.69,"v2":1.5},{"c":"w","f":0.428,"v":0.69,"v2":2},{"c":"w","f":0.446,"v":0.69,"v2":1.2},{"c":"w","f":0.466,"v":0.69,"v2":1.7},{"c":"w","f":0.487,"v":0.69,"v2":1.2},{"c":"w","f":0.508,"v":0.69,"v2":1.5},{"c":"w","f":0.53,"v":0.69,"v2":1.1}
],
"lisa":[
{"f":1.953e-4,"v":9440},{"f":2.5e-4,"v":5760},{"f":3e-4,"v":4000},{"f":4e-4,"v":2250},{"f":5e-4,"v":1440},{"f":6e-4,"v":1000},{"f":7e-4,"v":736},{"f":8.5e-4,"v":500},{"f":1e-3,"v":362},{"f":1.25e-3,"v":234},{"f":1.5e-3,"v":165},{"f":1.75e-3,"v":124},{"f":2e-3,"v":98},{"f":2.5e-3,"v":70},{"f":3e-3,"v":57},{"f":3.5e-3,"v":49.6},{"f":4e-3,"v":46},{"f":5e-3,"v":42.5},{"f":7e-3,"v":40.7},{"f":0.01,"v":40.2},{"f":0.1,"v":40},{"f":2.884,"v":40}
],
"band":[
{"f":2.512e-3,"top":2.4e10,"bot":413},{"f":3.91e-3,"top":2.4e10,"bot":95},{"f":3.912e-3,"top":4.9e5,"bot":95},{"f":4.016e-3,"top":4.9e5,"bot":87.5},{"f":6.54e-3,"top":4.9e5,"bot":413}
],
"boxes":[
{"id":"legend","f":0.0352,"f2":1.13,"v":7.1e6,"v2":7.8e11},
{"id":"clock","f":3.912e-3,"f2":6.54e-3,"v":4.9e5,"v2":7.1e6}
],
"legend":[
{"f":0.0384,"v":2.72e11,"t":"i) raw phase measurement"},
{"f":0.0475,"v":7.4e10,"t":"(laser phase noise)"},
{"f":0.0384,"v":1.88e10,"t":"ii) α, uncorrected"},
{"f":0.0384,"v":3.99e9,"t":"iii) clock noise"},
{"f":0.0384,"v":7.0e8,"t":"iv) α, corrected"},
{"f":0.0412,"v":1.31e8,"t":"v) interferometer limit"},
{"f":0.0412,"v":2.6e7,"t":"vi) LISA requirement"}
],
"labels":[
{"f":3.05e-4,"v":1.87e11,"t":"i)"},
{"f":0.01352,"v":6.25e6,"t":"ii)"},
{"f":0.0189,"v":9.2e3,"t":"iii)"},
{"f":4.12e-4,"v":4.95e3,"t":"vi)"},
{"f":7.8e-4,"v":4.95e3,"t":"iv)"},
{"f":1.73e-3,"v":4.11e3,"t":"v)"}
],
"rot":[
{"f":3.162e-3,"v":3.4e5,"t":"laser frequency noise suppression ~10⁹","s":14},
{"f":4.43e-3,"v":9.8e3,"t":"clock noise","s":14},
{"f":5.57e-3,"v":8.1e3,"t":"suppression >5.8 x10⁴","s":14.5}
],
"arrows":[
{"a":"vi","o":1,"f":5.88e-4,"v":4950},{"a":"vi","o":2,"f":6.54e-4,"v":4110},{"a":"vi","o":3,"f":7.02e-4,"v":2660},{"a":"vi","o":4,"f":7.27e-4,"v":1620},{"a":"vi","o":5,"f":7.27e-4,"v":1110},
{"a":"iv","o":1,"f":1.093e-3,"v":5610},{"a":"iv","o":2,"f":1.259e-3,"v":4650},{"a":"iv","o":3,"f":1.352e-3,"v":3010},{"a":"iv","o":4,"f":1.4e-3,"v":1830},{"a":"iv","o":5,"f":1.4e-3,"v":1340},
{"a":"v","o":1,"f":1.96e-3,"v":2660},{"a":"v","o":2,"f":2.067e-3,"v":1620},{"a":"v","o":3,"f":2.067e-3,"v":870}
],
"heads":[
{"f":7.27e-4,"v":986},{"f":1.4e-3,"v":1190},{"f":2.067e-3,"v":722}
]
},
"encoding":{
"x":{"field":"f","type":"quantitative","scale":{"type":"log","domain":[1.953e-4,2.884],"nice":false},
"axis":{"title":"frequency [Hz]","values":[2e-4,3e-4,4e-4,5e-4,6e-4,7e-4,8e-4,9e-4,0.001,0.002,0.003,0.004,0.005,0.006,0.007,0.008,0.009,0.01,0.02,0.03,0.04,0.05,0.06,0.07,0.08,0.09,0.1,0.2,0.3,0.4,0.5,0.6,0.7,0.8,0.9,1,2],
"labelExpr":"datum.value==0.001?'10⁻³':datum.value==0.01?'10⁻²':datum.value==0.1?'10⁻¹':datum.value==1?'10⁰':''",
"grid":true,"gridDash":[1,5],"gridColor":"#888","gridWidth":1,"labelFont":"Liberation Sans","labelFontSize":18,"labelColor":"#000","labelPadding":13,"labelFlush":false,"labelOverlap":false,
"titleFont":"Liberation Sans","titleFontSize":20,"titleFontWeight":"normal","titleColor":"#000","titleX":262,"titleY":51,"titleAlign":"center","titleBaseline":"middle"}}
},
"layer":[
{"data":{"name":"main"},"transform":[{"filter":"isValid(datum.rl)"}],"mark":{"type":"area","color":"#ed1c24","clip":true},
 "encoding":{"y":{"field":"rl","type":"quantitative","scale":{"type":"log","domain":[1,1e12],"nice":false},
  "axis":{"orient":"left","title":"phase [µcycles/√Hz]","values":[1,100,10000,1000000,100000000,10000000000,1000000000000],
  "labelExpr":"datum.value==1?'10⁰':datum.value==100?'10²':datum.value==10000?'10⁴':datum.value==1000000?'10⁶':datum.value==100000000?'10⁸':datum.value==10000000000?'10¹⁰':''",
  "grid":true,"gridDash":[1,5],"gridColor":"#888","labelFont":"Liberation Sans","labelFontSize":18,"labelColor":"#000","labelPadding":7,"labelOverlap":false,"labelFlush":false,"labelOffset":-3,
  "titleFont":"Liberation Sans","titleFontSize":20,"titleFontWeight":"normal","titleColor":"#000","titleX":-60,"titleY":231,"titleAlign":"center","titleBaseline":"middle","titleAngle":270}},
  "y2":{"field":"rh"}}},
{"data":{"name":"main"},"transform":[{"filter":"isValid(datum.r)"}],"mark":{"type":"line","color":"#ed1c24","strokeWidth":2,"clip":true},
 "encoding":{"y":{"field":"r","type":"quantitative","scale":{"type":"log","domain":[1,1e12],"nice":false},"axis":null}}},
{"data":{"name":"spk"},"transform":[{"filter":"datum.c=='r'"}],"mark":{"type":"rule","color":"#ed1c24","strokeWidth":1.5,"clip":true},
 "encoding":{"y":{"field":"v","type":"quantitative","scale":{"type":"log","domain":[1,1e12],"nice":false},"axis":null},"y2":{"field":"v2"}}},
{"data":{"name":"boxes"},"transform":[{"filter":"datum.id=='legend'"}],"mark":{"type":"rect","color":"#fff","opacity":0.75},
 "encoding":{"x2":{"field":"f2"},"y":{"field":"v","type":"quantitative","scale":{"type":"log","domain":[1,1e12],"nice":false},"axis":null},"y2":{"field":"v2"}}},
{"data":{"values":[{"f":0.0371,"f2":0.4426,"v":6.7e5,"v2":4.3e6}]},"mark":{"type":"rect","fill":null,"filled":false,"stroke":"#aaa","strokeWidth":1},
 "encoding":{"x2":{"field":"f2"},"y":{"field":"v","type":"quantitative","scale":{"type":"log","domain":[1,1e12],"nice":false},"axis":null},"y2":{"field":"v2"}}},
{"data":{"values":[{"f":0.0412,"v":1.92e6,"t":"vii) phasemeter noise"}]},"mark":{"type":"text","align":"left","baseline":"middle","font":"Liberation Serif","fontSize":17,"color":"#333"},
 "encoding":{"y":{"field":"v","type":"quantitative","scale":{"type":"log","domain":[1,1e12],"nice":false},"axis":null},"text":{"field":"t"}}},
{"data":{"name":"main"},"transform":[{"filter":"isValid(datum.ml)"}],"mark":{"type":"area","color":"#b9509e","clip":true},
 "encoding":{"y":{"field":"ml","type":"quantitative","scale":{"type":"log","domain":[1,1e12],"nice":false},"axis":null},"y2":{"field":"mh"}}},
{"data":{"name":"main"},"transform":[{"filter":"isValid(datum.m)"}],"mark":{"type":"line","color":"#b9509e","strokeWidth":2,"clip":true},
 "encoding":{"y":{"field":"m","type":"quantitative","scale":{"type":"log","domain":[1,1e12],"nice":false},"axis":null}}},
{"data":{"name":"spk"},"transform":[{"filter":"datum.c=='m'"}],"mark":{"type":"rule","color":"#b9509e","strokeWidth":1.5,"clip":true},
 "encoding":{"y":{"field":"v","type":"quantitative","scale":{"type":"log","domain":[1,1e12],"nice":false},"axis":null},"y2":{"field":"v2"}}},
{"data":{"name":"main"},"transform":[{"filter":"isValid(datum.kl)"}],"mark":{"type":"area","color":"#111","clip":true},
 "encoding":{"y":{"field":"kl","type":"quantitative","scale":{"type":"log","domain":[1,1e12],"nice":false},"axis":null},"y2":{"field":"kh"}}},
{"data":{"name":"main"},"transform":[{"filter":"isValid(datum.k)"}],"mark":{"type":"line","color":"#111","strokeWidth":2,"clip":true},
 "encoding":{"y":{"field":"k","type":"quantitative","scale":{"type":"log","domain":[1,1e12],"nice":false},"axis":null}}},
{"data":{"name":"spk"},"transform":[{"filter":"datum.c=='k'"}],"mark":{"type":"rule","color":"#111","strokeWidth":1.4,"clip":true},
 "encoding":{"y":{"field":"v","type":"quantitative","scale":{"type":"log","domain":[1,1e12],"nice":false},"axis":null},"y2":{"field":"v2"}}},
{"data":{"name":"spk"},"transform":[{"filter":"datum.c=='kt'"}],"mark":{"type":"rule","color":"#111","strokeWidth":1.8,"clip":true},
 "encoding":{"y":{"field":"v","type":"quantitative","scale":{"type":"log","domain":[1,1e12],"nice":false},"axis":null},"y2":{"field":"v2"}}},
{"data":{"name":"main"},"transform":[{"filter":"isValid(datum.b)"}],"mark":{"type":"line","color":"#2b4ba0","strokeWidth":2,"clip":true},
 "encoding":{"y":{"field":"b","type":"quantitative","scale":{"type":"log","domain":[1,1e12],"nice":false},"axis":null}}},
{"data":{"name":"main"},"transform":[{"filter":"isValid(datum.gl)"}],"mark":{"type":"area","color":"#6abd45","clip":true},
 "encoding":{"y":{"field":"gl","type":"quantitative","scale":{"type":"log","domain":[1,1e12],"nice":false},"axis":null},"y2":{"field":"gh"}}},
{"data":{"name":"main"},"transform":[{"filter":"isValid(datum.g)"}],"mark":{"type":"line","color":"#6abd45","strokeWidth":2,"clip":true},
 "encoding":{"y":{"field":"g","type":"quantitative","scale":{"type":"log","domain":[1,1e12],"nice":false},"axis":null}}},
{"data":{"name":"spk"},"transform":[{"filter":"datum.c=='g'"}],"mark":{"type":"rule","color":"#6abd45","strokeWidth":1.8,"clip":true},
 "encoding":{"y":{"field":"v","type":"quantitative","scale":{"type":"log","domain":[1,1e12],"nice":false},"axis":null},"y2":{"field":"v2"}}},
{"data":{"name":"spk"},"transform":[{"filter":"datum.c=='bt'"}],"mark":{"type":"rule","color":"#2b4ba0","strokeWidth":1.8,"clip":true},
 "encoding":{"y":{"field":"v","type":"quantitative","scale":{"type":"log","domain":[1,1e12],"nice":false},"axis":null},"y2":{"field":"v2"}}},
{"data":{"name":"spk"},"transform":[{"filter":"datum.c=='w'"}],"mark":{"type":"rule","color":"#fff","strokeWidth":1.6,"clip":true},
 "encoding":{"y":{"field":"v","type":"quantitative","scale":{"type":"log","domain":[1,1e12],"nice":false},"axis":null},"y2":{"field":"v2"}}},
{"data":{"name":"lisa"},"mark":{"type":"line","color":"#111","strokeWidth":2.5,"strokeDash":[10,4,3,4],"clip":true},
 "encoding":{"y":{"field":"v","type":"quantitative","scale":{"type":"log","domain":[1,1e12],"nice":false},"axis":null}}},
{"data":{"name":"band"},"mark":{"type":"area","color":"#d2d2d2","opacity":0.82},
 "encoding":{"y":{"field":"bot","type":"quantitative","scale":{"type":"log","domain":[1,1e12],"nice":false},"axis":null},"y2":{"field":"top"}}},
{"data":{"name":"boxes"},"transform":[{"filter":"datum.id=='clock'"}],"mark":{"type":"rect","color":"#fff","opacity":0.6},
 "encoding":{"x2":{"field":"f2"},"y":{"field":"v","type":"quantitative","scale":{"type":"log","domain":[1,1e12],"nice":false},"axis":null},"y2":{"field":"v2"}}},
{"data":{"name":"rot"},"mark":{"type":"text","angle":270,"align":"center","baseline":"middle","font":"Liberation Serif","color":"#444"},
 "encoding":{"y":{"field":"v","type":"quantitative","scale":{"type":"log","domain":[1,1e12],"nice":false},"axis":null},"text":{"field":"t"},"size":{"field":"s","type":"quantitative","scale":null}}},
{"data":{"name":"legend"},"mark":{"type":"text","align":"left","baseline":"middle","font":"Liberation Serif","fontSize":17,"color":"#111"},
 "encoding":{"y":{"field":"v","type":"quantitative","scale":{"type":"log","domain":[1,1e12],"nice":false},"axis":null},"text":{"field":"t"}}},
{"data":{"name":"labels"},"mark":{"type":"text","align":"left","baseline":"middle","font":"Liberation Serif","fontSize":16,"color":"#111"},
 "encoding":{"y":{"field":"v","type":"quantitative","scale":{"type":"log","domain":[1,1e12],"nice":false},"axis":null},"text":{"field":"t"}}},
{"data":{"name":"arrows"},"mark":{"type":"line","color":"#111","strokeWidth":1.5,"interpolate":"cardinal"},
 "encoding":{"y":{"field":"v","type":"quantitative","scale":{"type":"log","domain":[1,1e12],"nice":false},"axis":null},"detail":{"field":"a"},"order":{"field":"o","type":"quantitative"}}},
{"data":{"name":"heads"},"mark":{"type":"point","shape":"triangle-down","filled":true,"color":"#111","size":45,"opacity":1},
 "encoding":{"y":{"field":"v","type":"quantitative","scale":{"type":"log","domain":[1,1e12],"nice":false},"axis":null}}}
]
}
